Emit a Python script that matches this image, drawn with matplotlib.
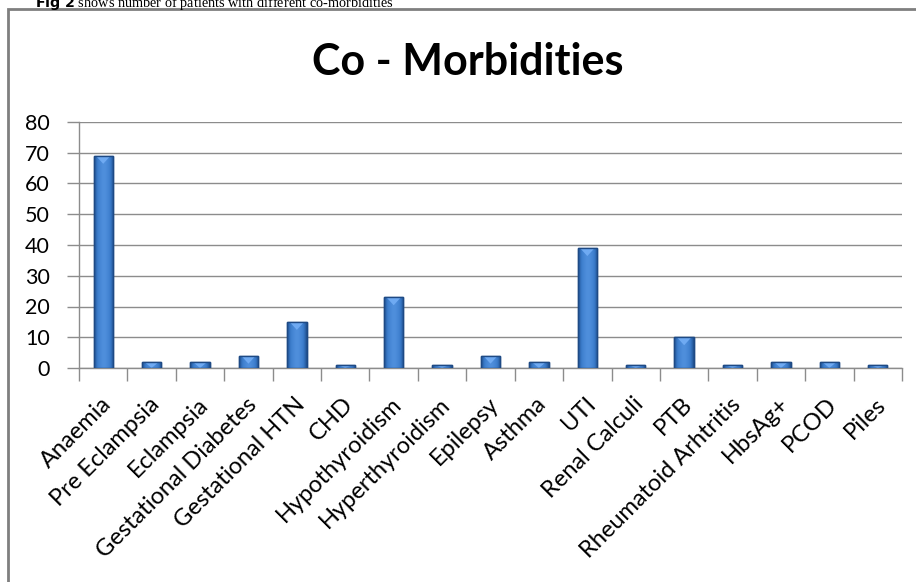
import numpy as np
import matplotlib
matplotlib.use("Agg")
import matplotlib.pyplot as plt
from matplotlib.patches import Rectangle, Polygon

# co-morbidity counts
categories = ["Anaemia", "Pre Eclampsia", "Eclampsia", "Gestational Diabetes",
              "Gestational HTN", "CHD", "Hypothyroidism", "Hyperthyroidism",
              "Epilepsy", "Asthma", "UTI", "Renal Calculi", "PTB",
              "Rheumatoid Arhtritis", "HbsAg+", "PCOD", "Piles"]
counts = [69, 2, 2, 4, 15, 1, 23, 1, 4, 2, 39, 1, 10, 1, 2, 2, 1]
yticks = [0, 10, 20, 30, 40, 50, 60, 70, 80]

W, H = 916, 582
fig = plt.figure(figsize=(W / 100, H / 100), dpi=100)
ax = fig.add_axes([79 / W, 1 - 368 / H, (902 - 79) / W, (368 - 122) / H])

x = np.arange(len(categories))
bw = 0.4
bars = ax.bar(x, counts, width=bw, color="#3470BB", edgecolor="#1E4A85",
              linewidth=1.0, zorder=3)

# horizontal shading on each bar, dark edges and lighter middle
prof = np.linspace(-1, 1, 64)
shade = 1 - np.abs(prof) ** 1.6
grad = shade[np.newaxis, :]
cmap = matplotlib.colors.LinearSegmentedColormap.from_list(
    "bar", ["#1F4F8E", "#3B7CCB", "#4F8FDC"])
for b, v in zip(bars, counts):
    x0 = b.get_x()
    im = ax.imshow(grad, extent=[x0, x0 + bw, 0, v], aspect="auto",
                   cmap=cmap, zorder=3.5, interpolation="bilinear")
    im.set_clip_path(b)
    # light bevel triangle at the top
    th = min(2.6, v)
    tri = Polygon([[x0 + 0.05, v], [x0 + bw - 0.05, v], [x0 + bw / 2, v - th]],
                  closed=True, facecolor="#6FAAF2", edgecolor="none", zorder=4)
    ax.add_patch(tri)
    tri.set_clip_path(b)
    ax.add_patch(Rectangle((x0, 0), bw, v, fill=False, edgecolor="#1E4A85",
                           linewidth=1.0, zorder=4.5))

ax.set_xlim(-0.5, len(categories) - 0.5)
ax.set_ylim(0, 80)
ax.set_yticks(yticks)
ax.set_yticklabels([str(t) for t in yticks], fontsize=15.5, family="Lato")
ax.yaxis.grid(True, color="#8C8C8C", linewidth=1.0, zorder=0)
ax.set_axisbelow(True)

ax.set_xticks(np.arange(len(categories) + 1) - 0.5)
ax.set_xticklabels([])
ax.tick_params(axis="x", length=9, color="#8C8C8C", width=1)
ax.tick_params(axis="y", length=9, color="#8C8C8C", width=1, pad=12)

for xi, lab in zip(x, categories):
    ax.text(xi - 0.06, -8.3, lab, rotation=45, ha="right", va="top",
            rotation_mode="anchor", fontsize=17, family="Lato")

for s in ["top", "right"]:
    ax.spines[s].set_visible(False)
for s in ["left", "bottom"]:
    ax.spines[s].set_color("#8C8C8C")
    ax.spines[s].set_linewidth(1.0)

fig.text(468 / W, 1 - 62 / H, "Co - Morbidities", ha="center", va="center",
         fontsize=31, fontweight="bold", family="Lato")

# border of the embedded chart frame
fig.add_artist(Rectangle((8 / W, -0.1), 1.2, (H - 9) / H + 0.1,
                         transform=fig.transFigure, fill=False,
                         edgecolor="#7F7F7F", linewidth=2.0))

# caption line cut off at the top of the page image
fig.text(35 / W, 1 - 7 / H, r"$\bf{Fig\ 2}$ shows number of patients with different co-morbidities",
         ha="left", va="baseline", fontsize=10.3, family="Liberation Serif")

fig.savefig("out.png", dpi=100)
